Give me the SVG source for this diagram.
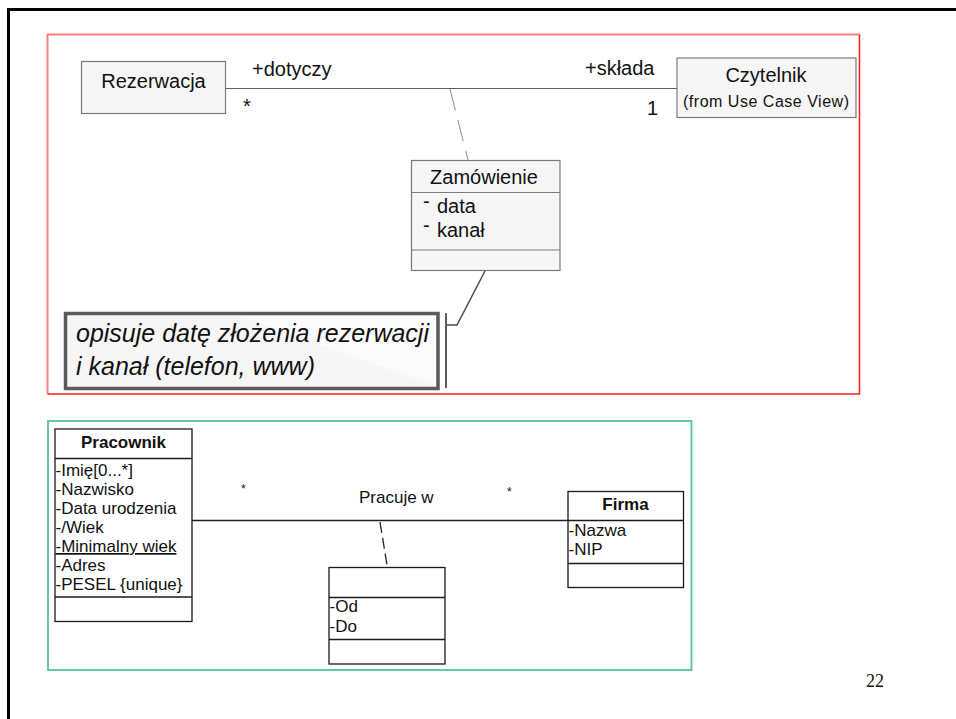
<svg xmlns="http://www.w3.org/2000/svg" width="956" height="719" viewBox="0 0 956 719">
  <style>
    .t { font-family: "Liberation Sans", Arial, sans-serif; fill: #111; }
    .big { font-size: 20px; }
    .sm { font-size: 17px; }
    .soft { fill: #f6f6f6; stroke: #7a7a7a; stroke-width: 1.2; }
    .crisp { fill: #ffffff; stroke: #1a1a1a; stroke-width: 1.3; }
    .bold { font-weight: bold; }
  </style>

  <rect width="956" height="719" fill="#ffffff"/>

  <!-- slide frame -->
  <path d="M8.5 719 V9.5 H956" fill="none" stroke="#000" stroke-width="3"/>

  <!-- upper panel -->
  <g id="panel-top">
    <path d="M47.5 394 V34.5 H859.5" fill="none" stroke="#ff8080" stroke-width="2"/>
    <path d="M859.5 34.5 V394 H47.5" fill="none" stroke="#ff1a1a" stroke-width="1.5"/>
  </g>

  <!-- lower panel -->
  <g id="panel-bottom">
    <rect x="48" y="421" width="643.5" height="249" fill="none" stroke="#55c2a2" stroke-width="1.8"/>
  </g>

  <!-- connectors -->
  <g id="connectors" fill="none">
    <line x1="226" y1="88.5" x2="677" y2="88.5" stroke="#606060" stroke-width="1.2"/>
    <line x1="450" y1="89" x2="468" y2="160" stroke="#8c8c8c" stroke-width="1" stroke-dasharray="22 10"/>
    <polyline points="485,271 457,325 447,325" stroke="#4a4a4a" stroke-width="1.5"/>
    <line x1="446" y1="313" x2="446" y2="388" stroke="#4a4a4a" stroke-width="1.8"/>
    <line x1="192" y1="520.5" x2="568" y2="520.5" stroke="#222" stroke-width="1.3"/>
    <line x1="380" y1="522" x2="387" y2="565" stroke="#222" stroke-width="1.3" stroke-dasharray="11 5"/>
  </g>

  <!-- association labels -->
  <g id="labels">
    <text class="t big" x="252" y="76">+dotyczy</text>
    <text class="t big" x="243" y="113">*</text>
    <text class="t big" x="585" y="75">+składa</text>
    <text class="t big" x="647" y="115">1</text>
    <text class="t sm" x="359" y="503">Pracuje w</text>
    <text class="t" x="241" y="493" font-size="12">*</text>
    <text class="t" x="507" y="496" font-size="12">*</text>
  </g>

  <g id="rezerwacja">
    <rect class="soft" x="81.5" y="61.5" width="144" height="52"/>
    <text class="t big" x="153.5" y="88" text-anchor="middle">Rezerwacja</text>
  </g>

  <g id="czytelnik">
    <rect class="soft" x="677" y="58" width="179" height="59.5"/>
    <text class="t big" x="766" y="82" text-anchor="middle">Czytelnik</text>
    <text class="t" x="683" y="107" font-size="16" textLength="166" lengthAdjust="spacing">(from Use Case View)</text>
  </g>

  <g id="zamowienie">
    <rect class="soft" x="411.5" y="160.5" width="148.5" height="110"/>
    <line x1="411.5" y1="192.5" x2="560" y2="192.5" stroke="#7a7a7a" stroke-width="1.2"/>
    <line x1="411.5" y1="250" x2="560" y2="250" stroke="#7a7a7a" stroke-width="1.2"/>
    <text class="t big" x="484" y="184" text-anchor="middle">Zamówienie</text>
    <text class="t big" x="423" y="208">-</text>
    <text class="t big" x="437" y="213">data</text>
    <text class="t big" x="423" y="232">-</text>
    <text class="t big" x="437" y="237">kanał</text>
  </g>

  <g id="note">
    <rect x="65.5" y="313.5" width="372.5" height="75" fill="#f6f6f6" stroke="#5a5a5a" stroke-width="3.5"/>
    <polygon points="240,316 436,316 436,386" fill="#fbfbfb"/>
    <text class="t" x="76" y="342" font-size="25" font-style="italic">opisuje datę złożenia rezerwacji</text>
    <text class="t" x="76" y="375" font-size="25" font-style="italic">i kanał (telefon, www)</text>
  </g>

  <g id="pracownik">
    <rect class="crisp" x="55" y="429" width="137" height="192.5"/>
    <line x1="55" y1="458.5" x2="192" y2="458.5" stroke="#1a1a1a" stroke-width="1.3"/>
    <line x1="55" y1="597" x2="192" y2="597" stroke="#1a1a1a" stroke-width="1.3"/>
    <text class="t sm bold" x="123.5" y="448" text-anchor="middle">Pracownik</text>
    <text class="t sm" x="55.5" y="476">-Imię[0...*]</text>
    <text class="t sm" x="55.5" y="495">-Nazwisko</text>
    <text class="t sm" x="55.5" y="514">-Data urodzenia</text>
    <text class="t sm" x="55.5" y="533">-/Wiek</text>
    <text class="t sm" x="55.5" y="552" text-decoration="underline">-Minimalny wiek</text>
    <text class="t sm" x="55.5" y="571">-Adres</text>
    <text class="t sm" x="55.5" y="589.5">-PESEL {unique}</text>
  </g>

  <g id="firma">
    <rect class="crisp" x="568" y="491.5" width="115.5" height="96"/>
    <line x1="568" y1="520.5" x2="683.5" y2="520.5" stroke="#1a1a1a" stroke-width="1.3"/>
    <line x1="568" y1="563.5" x2="683.5" y2="563.5" stroke="#1a1a1a" stroke-width="1.3"/>
    <text class="t sm bold" x="625.5" y="510" text-anchor="middle">Firma</text>
    <text class="t sm" x="568.5" y="536">-Nazwa</text>
    <text class="t sm" x="568.5" y="555">-NIP</text>
  </g>

  <g id="zatrudnienie">
    <rect class="crisp" x="329" y="567.5" width="116" height="96.5"/>
    <line x1="329" y1="597.5" x2="445" y2="597.5" stroke="#1a1a1a" stroke-width="1.3"/>
    <line x1="329" y1="639.5" x2="445" y2="639.5" stroke="#1a1a1a" stroke-width="1.3"/>
    <text class="t sm" x="329.5" y="612">-Od</text>
    <text class="t sm" x="329.5" y="632">-Do</text>
  </g>

  <text x="866" y="687" font-family="'Liberation Serif', 'Times New Roman', serif" font-size="18" fill="#111">22</text>
</svg>
